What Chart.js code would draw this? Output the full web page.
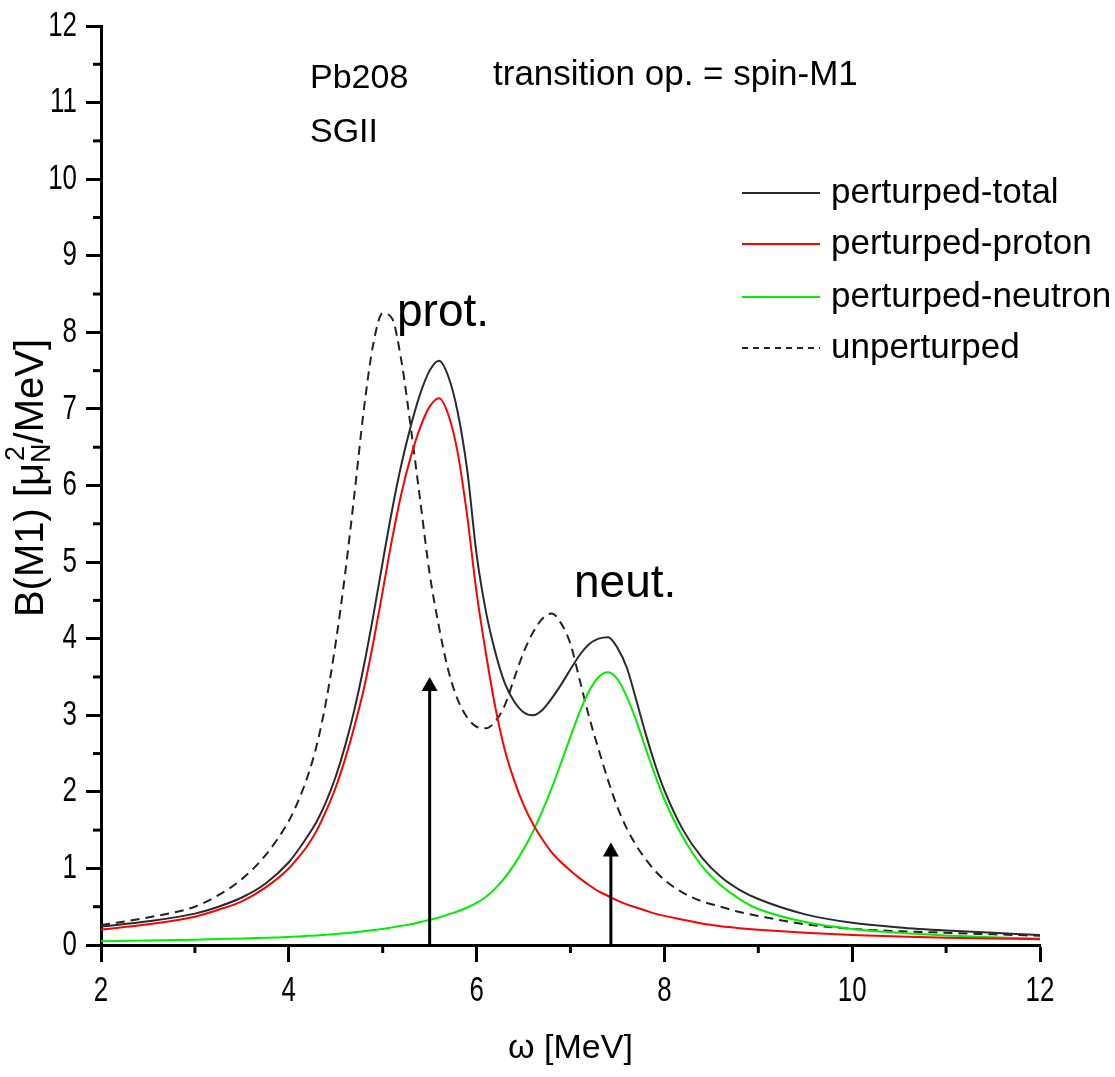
<!DOCTYPE html>
<html>
<head>
<meta charset="utf-8">
<script src="https://cdn.jsdelivr.net/npm/chart.js@4/dist/chart.umd.min.js"></script>
<style>
  html, body { margin: 0; padding: 0; background: #fff; }
</style>
</head>
<body>
<canvas id="bm1Chart" width="1115" height="1077"></canvas>
<script>
// omega [MeV]
const omega = [2, 2.5, 3, 3.25, 3.5, 3.75, 4, 4.1, 4.2, 4.3, 4.4, 4.5, 4.6, 4.7, 4.8, 4.9,
  5.0, 5.1, 5.2, 5.3, 5.4, 5.5, 5.6, 5.7, 5.8, 5.9, 6.0, 6.1, 6.2, 6.3, 6.4, 6.5,
  6.6, 6.7, 6.8, 6.9, 7.0, 7.1, 7.2, 7.3, 7.4, 7.5, 7.6, 7.7, 7.8, 7.9, 8.0,
  8.2, 8.4, 8.6, 8.8, 9.0, 9.5, 10, 10.5, 11, 11.5, 12];

const totalB = [0.24, 0.31, 0.41, 0.5, 0.62, 0.8, 1.08, 1.24, 1.42, 1.62, 1.88, 2.2, 2.6, 3.08, 3.65, 4.3,
  5.0, 5.68, 6.28, 6.78, 7.2, 7.5, 7.63, 7.42, 6.95, 6.2, 5.1, 4.35, 3.82, 3.42, 3.18, 3.04,
  3.0, 3.07, 3.22, 3.4, 3.6, 3.79, 3.93, 4.0, 4.02, 3.88, 3.62, 3.2, 2.76, 2.36, 2.02,
  1.5, 1.14, 0.89, 0.72, 0.6, 0.4, 0.29, 0.23, 0.19, 0.16, 0.13];

const protonB = [0.2, 0.27, 0.37, 0.46, 0.57, 0.75, 1.0, 1.14, 1.3, 1.5, 1.76, 2.06, 2.43, 2.86, 3.35, 3.95,
  4.62, 5.3, 5.9, 6.38, 6.76, 7.03, 7.14, 6.92, 6.42, 5.6, 4.6, 3.8, 3.1, 2.55, 2.15, 1.83,
  1.58, 1.38, 1.21, 1.08, 0.97, 0.87, 0.78, 0.7, 0.64, 0.58, 0.53, 0.49, 0.45, 0.41, 0.38,
  0.33, 0.28, 0.245, 0.22, 0.2, 0.16, 0.13, 0.11, 0.095, 0.085, 0.075];

const neutronB = [0.05, 0.06, 0.07, 0.078, 0.085, 0.095, 0.105, 0.112, 0.12, 0.125, 0.135, 0.145, 0.155, 0.165, 0.18, 0.195,
  0.21, 0.23, 0.25, 0.27, 0.3, 0.33, 0.36, 0.4, 0.44, 0.49, 0.55, 0.63, 0.74, 0.88, 1.05, 1.25,
  1.48, 1.75, 2.05, 2.38, 2.72, 3.05, 3.32, 3.5, 3.56, 3.47, 3.24, 2.93, 2.57, 2.22, 1.9,
  1.4, 1.03, 0.78, 0.6, 0.47, 0.3, 0.21, 0.16, 0.125, 0.1, 0.085];

const unpertB = [0.26, 0.36, 0.5, 0.65, 0.86, 1.17, 1.62, 1.88, 2.2, 2.62, 3.2, 3.95, 4.85, 5.9, 7.0, 7.85,
  8.25, 8.18, 7.62, 6.75, 5.8, 4.85, 4.15, 3.58, 3.2, 2.97, 2.85, 2.83, 2.92, 3.13, 3.48, 3.82,
  4.08, 4.26, 4.33, 4.2, 3.93, 3.45, 2.97, 2.55, 2.15, 1.8, 1.52, 1.3, 1.12, 0.97, 0.85,
  0.68, 0.57, 0.5, 0.43, 0.38, 0.27, 0.21, 0.18, 0.16, 0.14, 0.12];

const seriesNames = ['perturped-total', 'perturped-proton', 'perturped-neutron', 'unperturped'];

// arrows (unperturbed proton / neutron states)
const arrowX = [5.5, 7.43];
const arrowTop = [3.5, 1.34];

const xTicks = [2, 4, 6, 8, 10, 12];
const yTicks = [0, 1, 2, 3, 4, 5, 6, 7, 8, 9, 10, 11, 12];

const pts = ys => omega.map((x, i) => ({ x: x, y: ys[i] }));

const TEXT_FONT = "'Liberation Sans', Arial, sans-serif";

function line(label, ys, color, dash) {
  return {
    label: label,
    data: pts(ys),
    borderColor: color,
    borderWidth: 2,
    borderDash: dash || [],
    pointRadius: 0,
    fill: false,
    cubicInterpolationMode: 'monotone'
  };
}

// narrow tick numbers like the original
function narrowText(ctx, txt, x, y, align) {
  const w = ctx.measureText(txt).width * 0.74;
  let left = x;
  if (align === 'right') left = x - w;
  if (align === 'center') left = x - w / 2;
  ctx.save();
  ctx.translate(left, y);
  ctx.scale(0.74, 1);
  ctx.fillText(txt, 0, 0);
  ctx.restore();
}

const extras = {
  id: 'extras',
  afterDatasetsDraw(chart) {
    const { ctx, scales: { x, y } } = chart;
    ctx.save();
    ctx.fillStyle = '#000';
    ctx.strokeStyle = '#000';
    ctx.lineWidth = 3;
    arrowX.forEach((ax, i) => {
      const px = x.getPixelForValue(ax);
      const y0 = y.getPixelForValue(0);
      const y1 = y.getPixelForValue(arrowTop[i]);
      ctx.beginPath();
      ctx.moveTo(px, y0);
      ctx.lineTo(px, y1 + 12);
      ctx.stroke();
      ctx.beginPath();
      ctx.moveTo(px, y1);
      ctx.lineTo(px - 8, y1 + 14);
      ctx.lineTo(px + 8, y1 + 14);
      ctx.closePath();
      ctx.fill();
    });
    ctx.restore();
  },
  afterDraw(chart) {
    const { ctx, chartArea, scales: { x, y } } = chart;
    ctx.save();

    // minor ticks
    ctx.strokeStyle = '#000';
    ctx.lineWidth = 3;
    for (let v = 0.5; v < 12; v += 1) {
      const py = y.getPixelForValue(v);
      ctx.beginPath();
      ctx.moveTo(chartArea.left, py);
      ctx.lineTo(chartArea.left - 8, py);
      ctx.stroke();
    }
    for (let v = 3; v < 12; v += 2) {
      const px = x.getPixelForValue(v);
      ctx.beginPath();
      ctx.moveTo(px, chartArea.bottom);
      ctx.lineTo(px, chartArea.bottom + 8);
      ctx.stroke();
    }

    // tick labels
    ctx.fillStyle = '#000';
    ctx.font = '35px ' + TEXT_FONT;
    ctx.textBaseline = 'middle';
    ctx.textAlign = 'left';
    yTicks.forEach(v => narrowText(ctx, String(v), 77, y.getPixelForValue(v), 'right'));
    xTicks.forEach(v => narrowText(ctx, String(v), x.getPixelForValue(v), 991, 'center'));

    // y axis title with sub/superscript
    ctx.translate(32, 478);
    ctx.rotate(-Math.PI / 2);
    const big = '40px ' + TEXT_FONT, small = '27px ' + TEXT_FONT;
    const p1 = 'B(M1) [\u03bc', p2 = '/MeV]';
    ctx.font = small;
    const wN = ctx.measureText('N').width;
    ctx.font = big;
    const w1 = ctx.measureText(p1).width;
    const wTot = w1 + wN + ctx.measureText(p2).width;
    let cx = -wTot / 2;
    ctx.fillText(p1, cx, 0);
    cx += w1;
    ctx.font = small;
    ctx.fillText('N', cx, 11);
    ctx.fillText('2', cx + 2, -15);
    cx += wN;
    ctx.font = big;
    ctx.fillText(p2, cx, 0);
    ctx.setTransform(1, 0, 0, 1, 0, 0);

    // annotations
    ctx.textAlign = 'left';
    ctx.textBaseline = 'middle';
    ctx.font = '34px ' + TEXT_FONT;
    ctx.fillText('Pb208', 310, 79);
    ctx.fillText('SGII', 310, 133);
    ctx.font = '35px ' + TEXT_FONT;
    ctx.fillText('transition op. = spin-M1', 493, 75);
    ctx.textBaseline = 'alphabetic';
    ctx.font = '46px ' + TEXT_FONT;
    ctx.fillText('prot.', 397, 326);
    ctx.fillText('neut.', 574, 597);

    // legend
    const rows = [193, 244, 297, 348];
    ctx.font = '35px ' + TEXT_FONT;
    ctx.textBaseline = 'middle';
    chart.data.datasets.forEach((ds, i) => {
      ctx.strokeStyle = ds.borderColor;
      ctx.lineWidth = 2;
      ctx.setLineDash(ds.borderDash.length ? [6, 5] : []);
      ctx.beginPath();
      ctx.moveTo(742, rows[i]);
      ctx.lineTo(820, rows[i]);
      ctx.stroke();
      ctx.setLineDash([]);
      ctx.fillStyle = '#000';
      ctx.fillText(ds.label, 831, rows[i]);
    });
    ctx.restore();
  }
};

const ctx = document.getElementById('bm1Chart').getContext('2d');
new Chart(ctx, {
  type: 'line',
  data: {
    datasets: [
      line(seriesNames[0], totalB, '#2a2a2a'),
      line(seriesNames[1], protonB, '#ff0000'),
      line(seriesNames[2], neutronB, '#00ee00'),
      line(seriesNames[3], unpertB, '#222222', [9, 6])
    ]
  },
  options: {
    responsive: false,
    animation: false,
    devicePixelRatio: 1,
    layout: { padding: { left: 0, top: 26, right: 75, bottom: 0 } },
    plugins: {
      legend: { display: false },
      tooltip: { enabled: false }
    },
    scales: {
      x: {
        type: 'linear',
        min: 2, max: 12,
        afterBuildTicks: s => { s.ticks = xTicks.map(v => ({ value: v })); },
        afterFit: s => { s.height = 132; },
        grid: { drawOnChartArea: false, tickLength: 17, tickWidth: 3, tickColor: '#000' },
        border: { display: true, width: 3, color: '#000' },
        ticks: { display: false },
        title: { display: true, text: '\u03c9 [MeV]', color: '#000', font: { family: TEXT_FONT, size: 34 }, padding: { top: 0, bottom: 8 } }
      },
      y: {
        min: 0, max: 12,
        afterBuildTicks: s => { s.ticks = yTicks.map(v => ({ value: v })); },
        afterFit: s => { s.width = 101; },
        grid: { drawOnChartArea: false, tickLength: 15, tickWidth: 3, tickColor: '#000' },
        border: { display: true, width: 3, color: '#000' },
        ticks: { display: false }
      }
    }
  },
  plugins: [extras]
});
</script>
</body>
</html>
